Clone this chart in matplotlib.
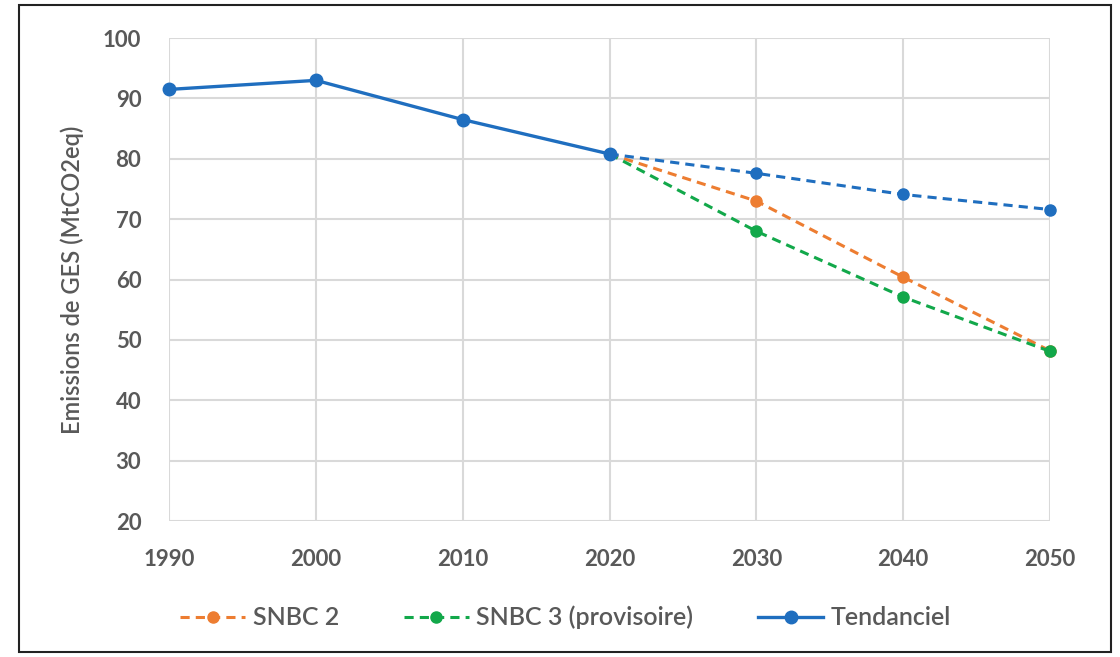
import matplotlib
matplotlib.use("Agg")
import matplotlib.pyplot as plt
from matplotlib.patches import Rectangle

years_hist = [1990, 2000, 2010, 2020]
tend_hist = [91.5, 93.0, 86.5, 80.8]
years_proj = [2020, 2030, 2040, 2050]
tend_proj = [80.8, 77.6, 74.1, 71.6]
snbc2 = [80.8, 73.0, 60.4, 48.2]
snbc3 = [80.8, 68.0, 57.1, 48.1]
xticks = [1990, 2000, 2010, 2020, 2030, 2040, 2050]
yticks = [20, 30, 40, 50, 60, 70, 80, 90, 100]

BLUE = "#1F6EBF"
ORANGE = "#ED7D31"
GREEN = "#12A84A"
TXT = "#595959"

plt.rcParams["font.family"] = ["Lato", "DejaVu Sans"]

fig = plt.figure(figsize=(11.2, 6.57), dpi=100)
ax = fig.add_axes([0.151, 0.207, 0.9375 - 0.151, 0.942 - 0.207])

ax.plot(years_proj, snbc2, "--", color=ORANGE, lw=2.2, marker="o", ms=8, dashes=(3, 2),
        label="SNBC 2", zorder=3, clip_on=False)
ax.plot(years_proj, snbc3, "--", color=GREEN, lw=2.2, marker="o", ms=8, dashes=(3, 2),
        label="SNBC 3 (provisoire)", zorder=3, clip_on=False)
ax.plot(years_proj, tend_proj, "--", color=BLUE, lw=2.2, marker="o", ms=8, dashes=(3, 2),
        zorder=4, clip_on=False)
ax.plot(years_hist, tend_hist, "-", color=BLUE, lw=2.4, marker="o", ms=9,
        label="Tendanciel", zorder=5, clip_on=False)

ax.set_xlim(1990, 2050)
ax.set_ylim(20, 100)
ax.set_xticks(xticks)
ax.set_yticks(yticks)
ax.grid(True, color="#D9D9D9", lw=1.5)
ax.set_axisbelow(True)
for s in ax.spines.values():
    s.set_visible(False)
ax.tick_params(length=0, labelsize=16, colors=TXT)
ax.tick_params(axis="x", pad=20)
ax.tick_params(axis="y", pad=20)
for lab in ax.get_xticklabels() + ax.get_yticklabels():
    lab.set_fontweight("bold")
ax.set_ylabel("Emissions de GES (MtCO2eq)", fontsize=17, color=TXT, labelpad=14,
              fontweight="semibold")

leg = fig.legend(loc="center", bbox_to_anchor=(0.505, 0.06), ncol=3, frameon=False,
                 fontsize=18, handlelength=2.6, columnspacing=2.6, handletextpad=0.3)
for t in leg.get_texts():
    t.set_color(TXT)
    t.set_fontweight("semibold")

fig.patches.append(Rectangle((0.017, 0.007), 0.975, 0.985, transform=fig.transFigure,
                             fill=False, edgecolor="#222222", lw=1.5))

fig.savefig("out.png", dpi=100)
